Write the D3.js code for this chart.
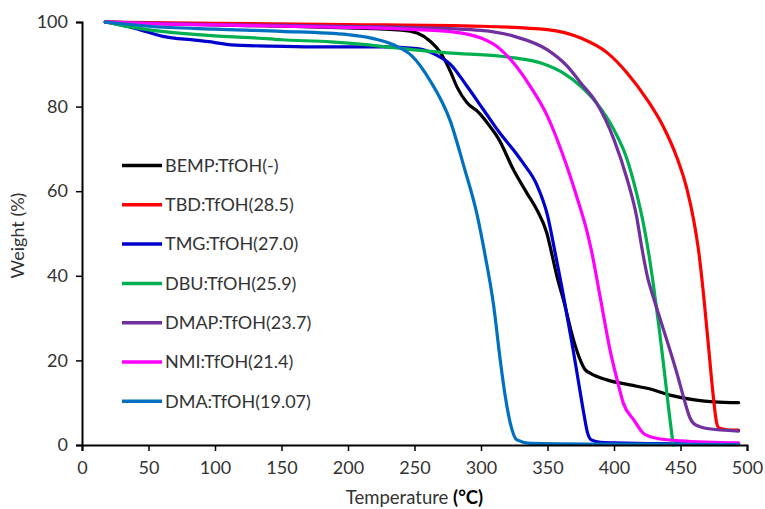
<!DOCTYPE html>
<html>
<head>
<meta charset="utf-8">
<script src="https://cdn.jsdelivr.net/npm/d3@7"></script>
<style>
  html, body { margin: 0; padding: 0; background: #fff; }
  svg { display: block; font-family: Lato, "Open Sans", sans-serif; }
</style>
</head>
<body>
<svg id="chart" width="765" height="509"></svg>
<script>
// TGA curves: temperature (°C) vs. residual weight (%)
const seriesNames = ["BEMP:TfOH(-)", "TBD:TfOH(28.5)", "TMG:TfOH(27.0)", "DBU:TfOH(25.9)",
                     "DMAP:TfOH(23.7)", "NMI:TfOH(21.4)", "DMA:TfOH(19.07)"];
const seriesColors = ["#000000", "#ff0000", "#0000cc", "#00b050", "#7030a0", "#ff00ff", "#0070c0"];

const bempData = [[17.5,100],[60,99.6],[100,99.3],[150,99],[200,98.6],[240,98.1],[252,97.4],[262,95.4],
  [269,93],[277,88.3],[282,84.6],[289.5,80.9],[298,78.7],[307,75.2],[313,72.5],[324.5,65],[334.6,59.5],
  [342,55.6],[349.6,50],[353,45.5],[357,40],[362,34.3],[369.6,24.8],[374.6,20.1],[378,17.9],[382,17],
  [394.7,15.4],[412,14.2],[425,13.4],[442,11.8],[462,10.6],[475,10.2],[493.7,10]];
const tbdData = [[17.5,100],[100,99.7],[200,99.4],[300,99],[350,98.2],[375,96.2],[395,92.7],[410,87.9],
  [425,81.6],[437,75.3],[447,68.2],[455,60.3],[460,53],[464,45],[467.5,35],[471,23.5],[474.5,12],
  [477,5.5],[479,4],[485,3.6],[493.7,3.5]];
const tmgData = [[17.5,100],[40,98.5],[61,96.6],[85,95.7],[99,95.2],[112,94.6],[140,94.3],[174,94.1],
  [227,94.1],[252,93.7],[267,92.1],[277,90],[289.5,84.8],[302,79.2],[314,73.8],[325,69.5],[332,66.5],
  [342,61.5],[350,54.3],[356,45],[361,37],[365,30],[369,23],[373,15.5],[377,8],[380,3],[383,1.2],
  [390,0.6],[400,0.5],[450,0.3],[493.7,0.3]];
const dbuData = [[17.5,100],[30,99.2],[49,98.2],[75,97.3],[100,96.7],[127,96.3],[150,95.8],[187,95.3],
  [227,94.2],[250,93.4],[275,92.7],[315,91.9],[325,91.5],[345,90.3],[362,87.9],[375,84.8],[387,80.8],
  [400,74.5],[410,67.4],[417,59.5],[422,52.5],[426,45.5],[430,37],[434,27.5],[438,17],[441.5,7.5],
  [444.5,0]];
const dmapData = [[17.5,100],[100,99.4],[200,99],[250,98.7],[300,98],[325,96.6],[350,93.4],[365,89.5],
  [375,85.6],[387,80.8],[400,72.2],[410,62.7],[417,54],[421,46.5],[425,40],[430,34.5],[436,28.5],
  [442,22.5],[448,16.2],[453,10.5],[457,6.5],[461,4.8],[470,3.9],[493.7,3.3]];
const nmiData = [[17.5,100],[50,99.6],[100,99.3],[150,99],[200,98.7],[237,98.4],[260,98.1],[275,97.8],
  [300,96.2],[312,94.2],[324.5,90.3],[337,84.8],[350,77.7],[362,68.2],[372,58.7],[380,50.1],[383,46],
  [390,34.3],[397,22.5],[403,14.6],[407,9.9],[415,5.9],[422,2.8],[432,1.6],[450,1],[493.7,0.5]];
const dmaData = [[17.5,100],[50,99],[100,98.3],[150,97.8],[200,97],[220,96],[235,94.5],[248,92],
  [262,86],[277,76.5],[287,66],[297,54.5],[303,45],[309.5,33],[314.5,20],[318,12],[322,5.2],[327,1.2],
  [337,0.4],[400,0.2],[493.7,0.1]];
const seriesData = [bempData, tbdData, tmgData, dbuData, dmapData, nmiData, dmaData];

const xTicks = [0, 50, 100, 150, 200, 250, 300, 350, 400, 450, 500];
const yTicks = [0, 20, 40, 60, 80, 100];

const svg = d3.select("#chart");
const plot = { left: 82, right: 747, top: 22, bottom: 445 };

const x = d3.scaleLinear().domain([0, 500]).range([plot.left, plot.right]);
const y = d3.scaleLinear().domain([0, 100]).range([plot.bottom, plot.top]);

const textColor = "#333333";
const fontSize = "18px";

// curves
const line = d3.line().x(d => x(d[0])).y(d => y(d[1])).curve(d3.curveMonotoneX);
svg.append("g").selectAll("path")
  .data(seriesData)
  .join("path")
  .attr("d", line)
  .attr("fill", "none")
  .attr("stroke", (d, i) => seriesColors[i])
  .attr("stroke-width", 3.2)
  .attr("stroke-linejoin", "round")
  .attr("stroke-linecap", "round");

// axes
const xAxis = svg.append("g")
  .attr("transform", `translate(0,${plot.bottom})`)
  .call(d3.axisBottom(x).tickValues(xTicks).tickSize(6).tickPadding(10));
const yAxis = svg.append("g")
  .attr("transform", `translate(${plot.left},0)`)
  .call(d3.axisLeft(y).tickValues(yTicks).tickSize(6).tickPadding(8));
[xAxis, yAxis].forEach(g => {
  g.select(".domain").attr("stroke", "#000").attr("stroke-width", 2);
  g.selectAll(".tick line").attr("stroke", "#000").attr("stroke-width", 1.5);
  g.selectAll(".tick text").attr("fill", textColor).style("font-size", fontSize).style("font-family", "Lato, 'Open Sans', sans-serif");
});

// axis titles
svg.append("text")
  .attr("transform", `translate(24,${(plot.top + plot.bottom) / 2 + 2}) rotate(-90)`)
  .attr("text-anchor", "middle")
  .attr("fill", textColor)
  .style("font-size", fontSize)
  .text("Weight (%)");

const xTitle = svg.append("text")
  .attr("x", (plot.left + plot.right) / 2)
  .attr("y", 504)
  .attr("text-anchor", "middle")
  .attr("fill", textColor)
  .style("font-size", "18.5px");
xTitle.append("tspan").text("Temperature ");
xTitle.append("tspan").attr("font-weight", "bold").attr("fill", "#000").text("(°C)");

// legend
const legend = svg.append("g").selectAll("g")
  .data(seriesNames)
  .join("g")
  .attr("transform", (d, i) => `translate(122,${165.5 + i * 39.3})`);
legend.append("line")
  .attr("x1", 0).attr("x2", 40)
  .attr("stroke", (d, i) => seriesColors[i])
  .attr("stroke-width", 3.5);
legend.append("text")
  .attr("x", 43)
  .attr("dy", "0.35em")
  .attr("fill", textColor)
  .style("font-size", fontSize)
  .text(d => d);
</script>
</body>
</html>
